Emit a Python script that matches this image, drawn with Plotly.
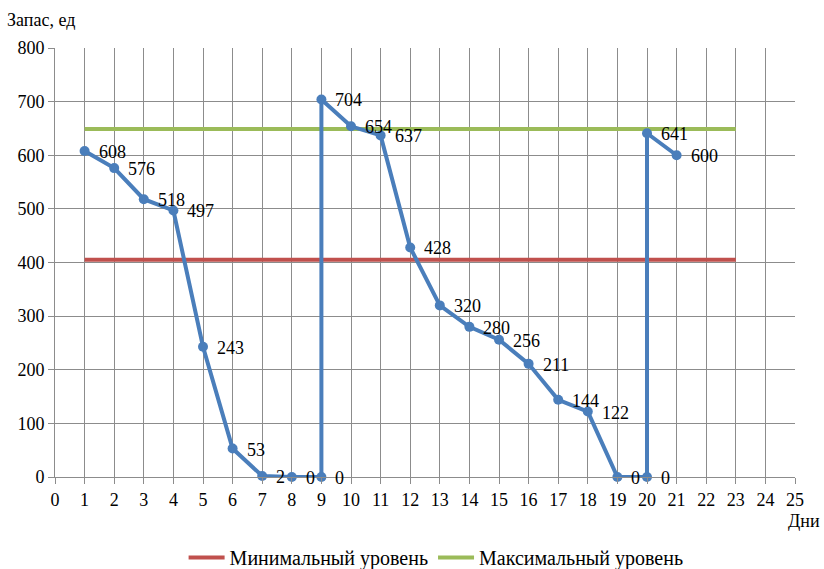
import plotly.graph_objects as go

# Daily stock level (units); days 9 and 20 repeat because a delivery arrives that day
days = [1, 2, 3, 4, 5, 6, 7, 8, 9, 9, 10, 11, 12, 13, 14, 15, 16, 17, 18, 19, 20, 20, 21]
stock = [608, 576, 518, 497, 243, 53, 2, 0, 0, 704, 654, 637, 428, 320, 280, 256, 211, 144, 122, 0, 0, 641, 600]

level_days = [1, 23]
min_level = [405, 405]
max_level = [649, 649]

x_ticks = list(range(0, 26))
y_ticks = list(range(0, 801, 100))

FONT = "'Liberation Serif', 'Times New Roman', 'DejaVu Serif', serif"
GRID = "#8c8c8c"

fig = go.Figure()

fig.add_trace(go.Scatter(
    x=level_days, y=min_level, mode="lines",
    name="Минимальный уровень",
    line=dict(color="#C0504D", width=4),
))
fig.add_trace(go.Scatter(
    x=level_days, y=max_level, mode="lines",
    name="Максимальный уровень",
    line=dict(color="#9BBB59", width=4),
))
fig.add_trace(go.Scatter(
    x=days, y=stock, mode="lines+markers",
    showlegend=False,
    line=dict(color="#4A7EBB", width=4),
    marker=dict(color="#4A7EBB", size=10),
    cliponaxis=False,
))

# value labels to the right of each point
labels = [
    dict(x=d, y=v, text=str(v), xref="x", yref="y", xanchor="left",
         yanchor="middle", xshift=12, yshift=-1, showarrow=False,
         font=dict(family=FONT, size=18, color="black"))
    for d, v in zip(days, stock)
]

fig.update_layout(
    width=824, height=569,
    margin=dict(l=55, r=29, t=48, b=92, autoexpand=False),
    paper_bgcolor="white", plot_bgcolor="white",
    font=dict(family=FONT, size=18, color="black"),
    showlegend=True,
    legend=dict(
        orientation="h", x=0.515, xanchor="center", y=-0.142, yanchor="top",
        font=dict(family=FONT, size=20, color="black"),
        itemwidth=36, tracegroupgap=0,
    ),
    xaxis=dict(
        range=[0, 25], tickmode="array", tickvals=x_ticks,
        ticktext=[str(t) for t in x_ticks],
        showgrid=True, gridcolor=GRID, gridwidth=1,
        showline=True, linecolor=GRID, linewidth=1,
        ticks="outside", ticklen=6, tickcolor=GRID,
        zeroline=False, tickfont=dict(family=FONT, size=18),
    ),
    yaxis=dict(
        range=[0, 800], tickmode="array", tickvals=y_ticks,
        ticktext=[str(t) for t in y_ticks],
        showgrid=True, gridcolor=GRID, gridwidth=1,
        showline=True, linecolor=GRID, linewidth=1,
        ticks="outside", ticklen=6, tickcolor=GRID,
        zeroline=False, tickfont=dict(family=FONT, size=18),
    ),
    annotations=labels + [
        dict(text="Запас, ед", xref="paper", yref="paper", x=-0.067, y=1.0,
             xanchor="left", yanchor="bottom", yshift=16, showarrow=False,
             font=dict(family=FONT, size=18)),
        dict(text="Дни", xref="paper", yref="paper", x=1.037, y=0,
             xanchor="right", yanchor="top", yshift=-32, showarrow=False,
             font=dict(family=FONT, size=18)),
    ],
)

fig.write_html("out.html")
